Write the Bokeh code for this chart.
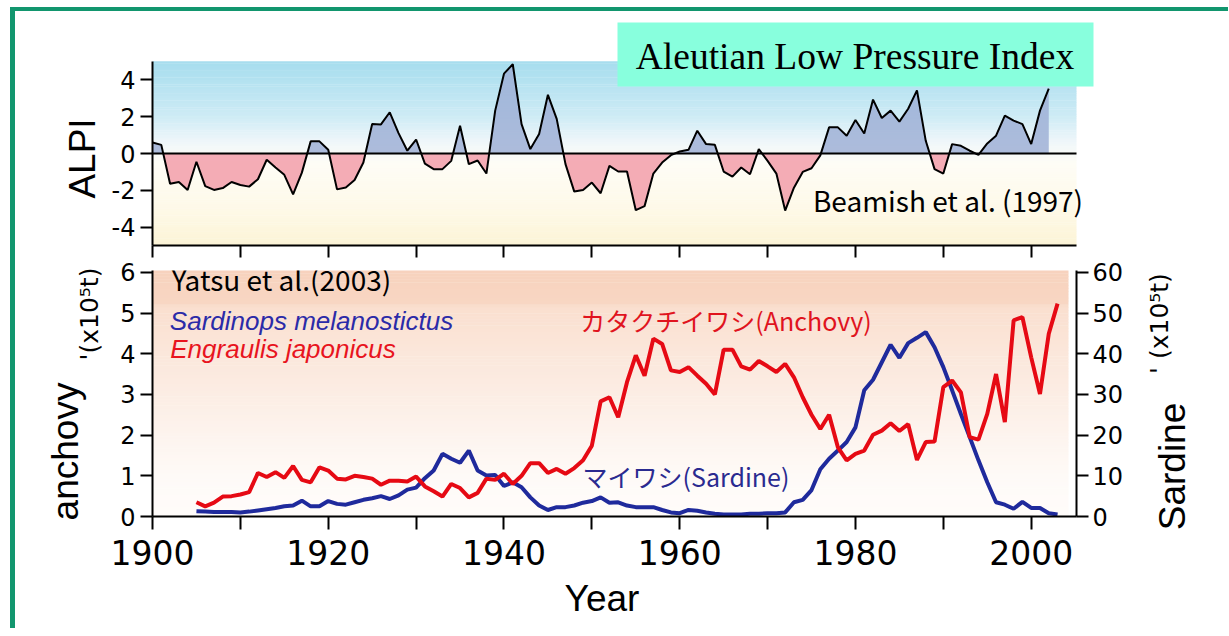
import numpy as np
from math import pi
from bokeh.plotting import figure
from bokeh.models import Range1d, LinearAxis, FixedTicker, Label, Div, Spacer
from bokeh.layouts import column, row
from bokeh.core.properties import value
from bokeh.embed import file_html
from bokeh.resources import INLINE

# ---------------- data ----------------
alpi_first_year = 1900
alpi = [0.6, 0.47, -1.64, -1.55, -1.98, -0.45, -1.77, -1.98, -1.88, -1.55,
        -1.71, -1.8, -1.4, -0.34, -0.76, -1.16, -2.22, -1.04, 0.66, 0.66,
        0.2, -1.95, -1.85, -1.44, -0.49, 1.6, 1.58, 2.24, 1.11, 0.15,
        0.76, -0.55, -0.85, -0.85, -0.4, 1.51, -0.58, -0.38, -1.09, 2.33,
        4.34, 4.85, 1.6, 0.24, 1.06, 3.19, 1.88, -0.58, -2.07, -1.98,
        -1.58, -2.16, -0.67, -0.98, -0.98, -3.08, -2.86, -1.09, -0.49, -0.09,
        0.11, 0.2, 1.24, 0.51, 0.47, -0.98, -1.26, -0.76, -1.13, 0.24,
        -0.4, -1.09, -3.1, -1.86, -1.0, -0.8, -0.1, 1.42, 1.42, 0.97,
        1.82, 1.09, 2.93, 1.93, 2.33, 1.73, 2.43, 3.43, 0.69, -0.85,
        -1.09, 0.51, 0.42, 0.15, -0.07, 0.55, 0.97, 2.06, 1.79, 1.6,
        0.51, 2.33, 3.52]

fish_first_year = 1905
anchovy = [0.35, 0.25, 0.34, 0.49, 0.5, 0.54, 0.6, 1.07, 0.97, 1.09,
           0.95, 1.24, 0.9, 0.84, 1.21, 1.13, 0.93, 0.91, 1.0, 0.97,
           0.93, 0.78, 0.88, 0.88, 0.86, 0.98, 0.74, 0.62, 0.49, 0.8,
           0.7, 0.47, 0.58, 0.93, 0.9, 1.05, 0.8, 1.0, 1.31, 1.31,
           1.07, 1.17, 1.05, 1.19, 1.38, 1.74, 2.83, 2.93, 2.44, 3.3,
           3.96, 3.46, 4.37, 4.24, 3.59, 3.55, 3.67, 3.46, 3.26, 3.0,
           4.1, 4.1, 3.69, 3.61, 3.82, 3.69, 3.55, 3.75, 3.42, 2.93,
           2.5, 2.15, 2.5, 1.7, 1.38, 1.54, 1.62, 2.01, 2.11, 2.29,
           2.1, 2.27, 1.39, 1.83, 1.84, 3.18, 3.34, 3.05, 1.95, 1.89,
           2.52, 3.5, 2.32, 4.82, 4.9, 3.91, 3.01, 4.49, 5.23]
sardine = [1.3, 1.2, 1.1, 1.1, 1.1, 1.0, 1.2, 1.5, 1.8, 2.1,
           2.5, 2.7, 3.9, 2.5, 2.5, 3.8, 3.1, 2.9, 3.5, 4.1,
           4.5, 5.0, 4.3, 5.2, 6.6, 7.1, 9.4, 11.3, 15.4, 14.2,
           13.2, 16.2, 11.3, 10.1, 10.2, 7.5, 8.4, 7.2, 4.7, 2.7,
           1.6, 2.3, 2.3, 2.7, 3.4, 3.8, 4.7, 3.4, 3.5, 2.7,
           2.3, 2.3, 2.3, 1.6, 1.0, 0.8, 1.6, 1.4, 1.0, 0.7,
           0.5, 0.5, 0.5, 0.7, 0.7, 0.8, 0.8, 1.0, 3.5, 4.1,
           6.5, 11.6, 14.2, 16.2, 18.3, 21.9, 31.0, 33.6, 37.9, 42.2,
           39.0, 42.6, 43.9, 45.3, 41.6, 36.7, 31.0, 25.2, 19.5, 13.8,
           8.4, 3.5, 2.9, 1.9, 3.6, 2.1, 2.1, 0.8, 0.5]

year_ticks = [1900, 1910, 1920, 1930, 1940, 1950, 1960, 1970, 1980, 1990, 2000]
year_tick_labels = {1900: "1900", 1910: "", 1920: "1920", 1930: "", 1940: "1940",
                    1950: "", 1960: "1960", 1970: "", 1980: "1980", 1990: "", 2000: "2000"}
alpi_ticks = [-4, -2, 0, 2, 4]
alpi_tick_labels = {-4: "-4", -2: "-2", 0: "0", 2: "2", 4: "4"}
anchovy_ticks = [0, 1, 2, 3, 4, 5, 6]
sardine_ticks = [0, 10, 20, 30, 40, 50, 60]

alpi_years = np.arange(alpi_first_year, alpi_first_year + len(alpi))
fish_years = np.arange(fish_first_year, fish_first_year + len(anchovy))

# ---------------- geometry (page pixels, page origin at 0,0) ----------------
GREEN = "#12966e"
PAGE_R = 1228
BAR_TOP_Y, BAR_H = 7, 4
BAR_LEFT_X, BAR_W = 10, 5
CX0 = BAR_LEFT_X + BAR_W        # 15
CY0 = BAR_TOP_Y + BAR_H         # 11
FRAME_L, FRAME_R = 152, 1076
PX_YR = 8.787
X0 = 1900.0
X1 = X0 + (FRAME_R - FRAME_L) / PX_YR

T_BOT, T_PX = 245, 18.4
ROW1_END = 259
FIG_L, FIG_R = 104, 1130         # both panel figures span this
B_TOP, B_BOT, B_PX = 270, 516, 40.7
ROW2_END = 578
PAGE_END = 628

def tx(px):
    return X0 + (px - FRAME_L) / PX_YR

def ty1(py):
    return -5 + (T_BOT - py) / T_PX

def ty2(py):
    return (B_BOT - py) / B_PX

TICK_FONT = "DejaVu Sans"

def style_axis(ax, font_size):
    ax.axis_line_width = 2
    ax.axis_line_color = "black"
    ax.major_tick_line_width = 2
    ax.major_tick_line_color = "black"
    ax.major_tick_in = 0
    ax.minor_tick_in = 0
    ax.minor_tick_out = 0
    ax.major_label_text_font = TICK_FONT
    ax.major_label_text_font_size = font_size
    ax.major_label_text_color = "black"

def interp_colors(values, stops):
    vs = [s[0] for s in stops]
    out = []
    for v in values:
        rgb = [int(round(np.interp(v, vs, [s[1][k] for s in stops]))) for k in range(3)]
        out.append("#%02x%02x%02x" % tuple(rgb))
    return out

def strip(x0, x1, y0, y1):
    f = figure(width=x1 - x0, height=y1 - y0, output_backend="svg", toolbar_location=None,
               x_range=Range1d(x0, x1), y_range=Range1d(y1, y0),
               x_axis_location=None, y_axis_location=None, min_border=0)
    f.grid.visible = False
    f.outline_line_color = None
    f.background_fill_color = "white"
    f.border_fill_color = "white"
    return f

def clabel(fig, x, y, text, **kw):
    base = dict(text_align="center", text_baseline="middle",
                text_font="Liberation Sans", text_color="black")
    base.update(kw)
    fig.add_layout(Label(x=x, y=y, text=text, **base))

def vtext(fig, x, y, text, font, size):
    # vertical (rotated) title drawn as a text glyph, centred on (x, y)
    fig.text(x=[x], y=[y], text=[text], angle=pi / 2,
             text_align="center", text_baseline="middle",
             text_font=value(font), text_font_size=value(size), text_color="black")

# ---------------- top panel ----------------
p1 = figure(width=FIG_R - FIG_L, height=ROW1_END - CY0,
            output_backend="svg", toolbar_location=None,
            x_range=Range1d(X0, X0 + (FIG_R - FRAME_L) / PX_YR),
            y_range=Range1d(-5, -5 + (T_BOT - CY0) / T_PX),
            min_border_left=FRAME_L - FIG_L, min_border_right=0,
            min_border_top=0, min_border_bottom=ROW1_END - T_BOT)
p1.grid.visible = False
p1.outline_line_color = None
p1.background_fill_color = "white"
p1.border_fill_color = "white"

nb = 80
edges = np.linspace(-5, 5, nb + 1)
mids = (edges[:-1] + edges[1:]) / 2
top_stops = [(-5, (252, 244, 214)), (-3, (254, 249, 232)), (-0.5, (254, 253, 246)),
             (0.6, (240, 247, 250)), (2.0, (206, 235, 245)), (5, (166, 221, 238))]
p1.quad(left=X0, right=X1, bottom=edges[:-1], top=edges[1:] + 0.02,
        fill_color=interp_colors(mids, top_stops), line_color=None)

fx, fy = [], []
for i in range(len(alpi)):
    if i > 0 and (alpi[i - 1] < 0) != (alpi[i] < 0) and alpi[i - 1] != 0 and alpi[i] != 0:
        t = alpi[i - 1] / (alpi[i - 1] - alpi[i])
        fx.append(alpi_years[i - 1] + t)
        fy.append(0.0)
    fx.append(alpi_years[i])
    fy.append(alpi[i])
fx = np.array(fx)
fy = np.array(fy)
p1.varea(x=fx, y1=0, y2=np.maximum(fy, 0), fill_color="#9fb0d6", fill_alpha=0.85)
p1.varea(x=fx, y1=0, y2=np.minimum(fy, 0), fill_color="#f3a3ae", fill_alpha=0.9)
p1.segment(x0=X0, y0=0, x1=X1, y1=0, line_color="black", line_width=2)
p1.line(alpi_years, alpi, line_color="black", line_width=2)

p1.yaxis.ticker = FixedTicker(ticks=alpi_ticks)
p1.yaxis.major_label_overrides = alpi_tick_labels
p1.yaxis.bounds = (-5, 5)
style_axis(p1.yaxis[0], "24px")
p1.yaxis.major_tick_out = 12
p1.yaxis.major_label_standoff = 5

p1.xaxis.ticker = FixedTicker(ticks=year_ticks)
p1.xaxis.bounds = (X0, X1)
style_axis(p1.xaxis[0], "1px")
p1.xaxis.major_tick_out = 12
p1.xaxis.major_label_standoff = 0
p1.xaxis.major_label_text_alpha = 0

p1.quad(left=tx(617), right=tx(1093), bottom=ty1(86), top=ty1(22),
        fill_color="#88ffdd", line_color=None)
clabel(p1, tx(854.5), ty1(55.5), "Aleutian Low Pressure Index",
       text_font="Liberation Serif", text_font_size="37.5px")
clabel(p1, tx(947.5), ty1(199.5), "Beamish et al. (1997)",
       text_font="Noto Sans CJK JP", text_font_size="28px")

# ---------------- bottom panel ----------------
a_top = (B_BOT - B_TOP) / B_PX
p2 = figure(width=FIG_R - FIG_L, height=ROW2_END - ROW1_END,
            output_backend="svg", toolbar_location=None,
            x_range=Range1d(X0, X1), y_range=Range1d(0, a_top),
            min_border_left=FRAME_L - FIG_L, min_border_right=FIG_R - FRAME_R,
            min_border_top=B_TOP - ROW1_END, min_border_bottom=ROW2_END - B_BOT)
p2.extra_y_ranges = {"sard": Range1d(0, a_top * 10)}
p2.grid.visible = False
p2.outline_line_color = None
p2.background_fill_color = "white"
p2.border_fill_color = "white"

nb2 = 80
e2 = np.linspace(0, a_top, nb2 + 1)
m2 = (e2[:-1] + e2[1:]) / 2
bot_stops = [(0, (255, 252, 250)), (1.0, (254, 250, 247)), (2.0, (253, 244, 238)),
             (3.0, (252, 237, 228)), (4.0, (251, 231, 219)), (5.15, (250, 223, 207)),
             (5.25, (248, 214, 195)), (6.1, (247, 210, 189))]
p2.quad(left=X0, right=tx(1068), bottom=e2[:-1], top=e2[1:] + 0.01,
        fill_color=interp_colors(m2, bot_stops), line_color=None)

p2.line(fish_years, sardine, y_range_name="sard", line_color="#1f2a9c", line_width=4)
p2.line(fish_years, anchovy, line_color="#e60a14", line_width=4)

p2.yaxis.ticker = FixedTicker(ticks=anchovy_ticks)
style_axis(p2.yaxis[0], "24px")
p2.yaxis.major_tick_out = 12
p2.yaxis.major_label_standoff = 5

right_axis = LinearAxis(y_range_name="sard", ticker=FixedTicker(ticks=sardine_ticks))
style_axis(right_axis, "24px")
right_axis.major_tick_out = 12
right_axis.major_label_standoff = 4
p2.add_layout(right_axis, "right")

p2.xaxis.ticker = FixedTicker(ticks=year_ticks)
p2.xaxis.major_label_overrides = year_tick_labels
style_axis(p2.xaxis[0], "33px")
p2.xaxis.major_tick_out = 13
p2.xaxis.major_label_standoff = 10

clabel(p2, tx(281), ty2(278), "Yatsu et al.(2003)",
       text_font="Noto Sans CJK JP", text_font_size="28px")
clabel(p2, tx(311), ty2(320.5), "Sardinops melanostictus", text_font_size="26px",
       text_font_style="italic", text_color="#2b2ba8")
clabel(p2, tx(282.5), ty2(348.5), "Engraulis japonicus", text_font_size="26px",
       text_font_style="italic", text_color="#e8141e")
clabel(p2, tx(725.5), ty2(319), "カタクチイワシ(Anchovy)", text_font="Noto Sans CJK JP",
       text_font_size="25px", text_color="#e0141e")
clabel(p2, tx(685.5), ty2(475.5), "マイワシ(Sardine)", text_font="Noto Sans CJK JP",
       text_font_size="25px", text_color="#2a2a90")

# ---------------- tall side strips with the rotated axis titles ----------------
sL = strip(CX0, FIG_L, CY0, ROW2_END)
vtext(sL, 82, 158, "ALPI", "Liberation Sans", "37px")
vtext(sL, 65, 451, "anchovy", "Liberation Sans", "37px")
vtext(sL, 88.5, 313.5, "'(x10⁵t)", "DejaVu Sans", "25px")

sR = strip(FIG_R, PAGE_R, CY0, ROW2_END)
vtext(sR, 1159, 323, "' (x10⁵t)", "DejaVu Sans", "25px")
vtext(sR, 1172, 466, "Sardine", "Liberation Sans", "37px")

sY = strip(CX0, PAGE_R, ROW2_END, PAGE_END)
clabel(sY, 601.5, 598, "Year", text_font_size="37px")

# ---------------- page frame & layout ----------------
top_gap = Spacer(width=PAGE_R, height=BAR_TOP_Y, margin=0)
top_bar = row(Spacer(width=BAR_LEFT_X, height=BAR_H, margin=0),
              Div(text="", width=PAGE_R - BAR_LEFT_X, height=BAR_H, margin=0,
                  styles={"background-color": GREEN}), spacing=0)
left_gap = Spacer(width=BAR_LEFT_X, height=PAGE_END - CY0, margin=0)
left_bar = Div(text="", width=BAR_W, height=PAGE_END - CY0, margin=0,
               styles={"background-color": GREEN})

# p2 is wrapped in its own row so that the column does not align its frame with p1's
panels = column(p1, row(p2, spacing=0), spacing=0)
content = column(row(sL, panels, sR, spacing=0), sY, spacing=0)
layout = column(top_gap, top_bar, row(left_gap, left_bar, content, spacing=0), spacing=0)

open("out.html", "w").write(file_html(layout, INLINE))
